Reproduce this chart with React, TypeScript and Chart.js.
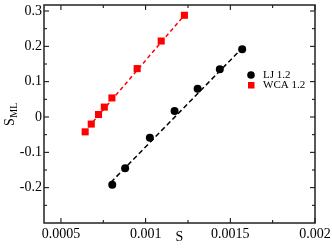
import React, { useEffect, useRef } from "react";
import { Chart, registerables } from "chart.js";

Chart.register(...registerables);

const ljX = [0.000803, 0.000879, 0.001025, 0.001171, 0.001307, 0.001438, 0.00157];
const ljY = [-0.192, -0.145, -0.059, 0.017, 0.08, 0.135, 0.192];
const wcaX = [0.000643, 0.000679, 0.000722, 0.000756, 0.000801, 0.00095, 0.001092, 0.001229];
const wcaY = [-0.042, -0.02, 0.007, 0.028, 0.054, 0.137, 0.215, 0.288];
const ljFitX = [0.000795, 0.00158];
const ljFitY = [-0.185, 0.2];
const wcaFitX = [0.000635, 0.001232];
const wcaFitY = [-0.044, 0.29];
const xTicks = [0.0005, 0.001, 0.0015, 0.002];
const xMinor = [0.00075, 0.00125, 0.00175];
const yTicks = [-0.2, -0.1, 0, 0.1, 0.2, 0.3];
const yMinor = [-0.25, -0.15, -0.05, 0.05, 0.15, 0.25];
const seriesNames = ["LJ 1.2", "WCA 1.2"];

const SERIF = "'Liberation Serif', 'DejaVu Serif', serif";

const pts = (xs: number[], ys: number[]) => xs.map((x, i) => ({ x, y: ys[i] }));

const decor = {
  id: "decor",
  afterDraw(chart: any) {
    const ctx = chart.ctx;
    const a = chart.chartArea;
    const xs = chart.scales.x;
    const ys = chart.scales.y;
    ctx.save();
    ctx.strokeStyle = "#000";
    ctx.lineWidth = 1;
    // inward ticks on all four sides
    const tick = (v: number, len: number, horiz: boolean) => {
      if (horiz) {
        const px = xs.getPixelForValue(v);
        ctx.beginPath();
        ctx.moveTo(px, a.bottom);
        ctx.lineTo(px, a.bottom - len);
        ctx.moveTo(px, a.top);
        ctx.lineTo(px, a.top + len);
        ctx.stroke();
      } else {
        const py = ys.getPixelForValue(v);
        ctx.beginPath();
        ctx.moveTo(a.left, py);
        ctx.lineTo(a.left + len, py);
        ctx.moveTo(a.right, py);
        ctx.lineTo(a.right - len, py);
        ctx.stroke();
      }
    };
    xTicks.forEach((v) => tick(v, 5, true));
    xMinor.forEach((v) => tick(v, 3, true));
    yTicks.forEach((v) => tick(v, 5, false));
    yMinor.forEach((v) => tick(v, 3, false));
    // frame
    ctx.lineWidth = 1.5;
    ctx.strokeStyle = "#222";
    ctx.strokeRect(a.left, a.top, a.right - a.left, a.bottom - a.top);

    // legend
    ctx.fillStyle = "#000";
    ctx.beginPath();
    ctx.arc(251, 75, 3.8, 0, Math.PI * 2);
    ctx.fill();
    ctx.fillStyle = "#ff0000";
    ctx.fillRect(248, 82, 6.5, 6.5);
    ctx.fillStyle = "#000";
    ctx.font = `11px ${SERIF}`;
    ctx.textAlign = "left";
    ctx.textBaseline = "middle";
    ctx.fillText(seriesNames[0], 263, 75.5);
    ctx.fillText(seriesNames[1], 263, 85.5);

    // axis titles
    ctx.textBaseline = "alphabetic";
    ctx.font = `14px ${SERIF}`;
    ctx.textAlign = "center";
    ctx.fillText("S", (a.left + a.right) / 2, 241);

    ctx.translate(13.5, 126);
    ctx.rotate(-Math.PI / 2);
    ctx.textAlign = "left";
    ctx.font = `14px ${SERIF}`;
    ctx.fillText("S", 0, 0);
    const w = ctx.measureText("S").width;
    ctx.font = `10px ${SERIF}`;
    ctx.fillText("ML", w + 0.5, 3.5);
    ctx.restore();
  },
};

export default function App() {
  const ref = useRef<HTMLCanvasElement | null>(null);
  useEffect(() => {
    if (!ref.current) return;
    const chart = new Chart(ref.current, {
      type: "scatter",
      data: {
        datasets: [
          {
            label: "LJ fit",
            data: pts(ljFitX, ljFitY),
            showLine: true,
            pointRadius: 0,
            borderColor: "#000",
            borderWidth: 1.5,
            borderDash: [5, 3],
          },
          {
            label: "WCA fit",
            data: pts(wcaFitX, wcaFitY),
            showLine: true,
            pointRadius: 0,
            borderColor: "#ff0000",
            borderWidth: 1.5,
            borderDash: [4, 3],
          },
          {
            label: seriesNames[0],
            data: pts(ljX, ljY),
            pointStyle: "circle",
            pointRadius: 4,
            backgroundColor: "#000",
            borderColor: "#000",
            borderWidth: 0,
          },
          {
            label: seriesNames[1],
            data: pts(wcaX, wcaY),
            pointStyle: "rect",
            pointRadius: 5,
            backgroundColor: "#ff0000",
            borderColor: "#ff0000",
            borderWidth: 0,
          },
        ],
      },
      options: {
        animation: false,
        responsive: false,
        devicePixelRatio: 1,
        layout: { padding: { top: 1, right: 17, left: 0, bottom: 0 } },
        plugins: { legend: { display: false }, tooltip: { enabled: false } },
        scales: {
          x: {
            type: "linear",
            min: 0.0004,
            max: 0.002,
            grid: { display: false, drawTicks: false },
            border: { display: false },
            afterBuildTicks: (s: any) => {
              s.ticks = xTicks.map((v) => ({ value: v }));
            },
            afterFit: (s: any) => {
              s.height = 27;
              s.paddingLeft = 0;
              s.paddingRight = 0;
            },
            ticks: {
              color: "#000",
              padding: 3,
              maxRotation: 0,
              font: { family: SERIF, size: 14 },
              callback: (v: any) => String(+Number(v).toFixed(5)),
            },
          },
          y: {
            type: "linear",
            min: -0.3,
            max: 0.317,
            grid: { display: false, drawTicks: false },
            border: { display: false },
            afterBuildTicks: (s: any) => {
              s.ticks = yTicks.map((v) => ({ value: v }));
            },
            afterFit: (s: any) => {
              s.width = 44;
              s.paddingTop = 0;
              s.paddingBottom = 0;
            },
            ticks: {
              color: "#000",
              padding: 2,
              font: { family: SERIF, size: 14 },
              callback: (v: any) => String(+Number(v).toFixed(3)),
            },
          },
        },
      },
      plugins: [decor],
    });
    return () => chart.destroy();
  }, []);
  return (
    <div style={{ position: "fixed", left: 0, top: 0, width: 332, height: 250, background: "#fff" }}>
      <canvas ref={ref} width={332} height={250} style={{ width: 332, height: 250 }} />
    </div>
  );
}
